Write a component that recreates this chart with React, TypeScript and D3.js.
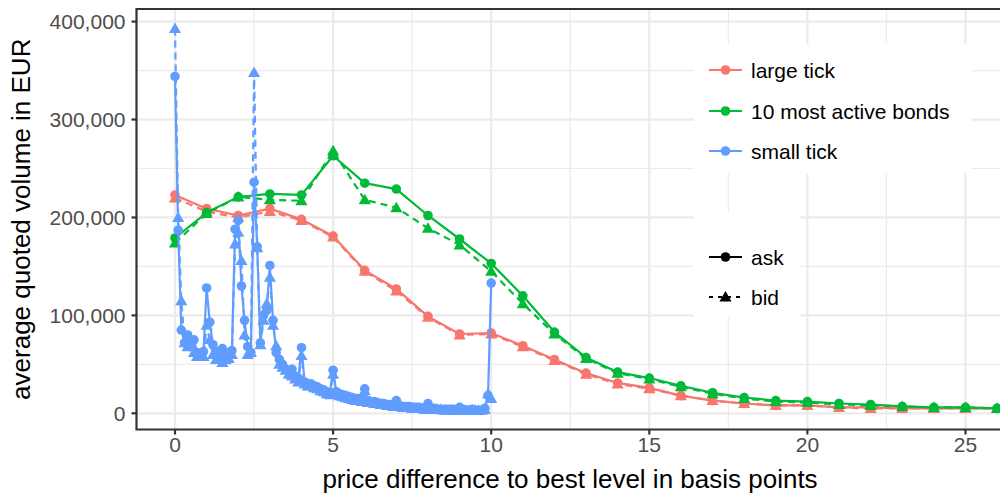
import * as d3 from "d3";

// values in thousand EUR
const largeTickX = d3.range(0, 27);
const largeAsk = [223, 209, 202, 209, 198, 181, 146, 127, 99, 81, 82, 69, 55, 41, 31, 26, 18, 13, 10, 8, 8, 6, 6, 5, 5, 5, 5];
const largeBid = [220, 206, 200, 206, 197, 180, 145, 125, 98, 80, 81, 68, 54, 40, 30, 25, 18, 13, 10, 8, 8, 6, 5, 5, 5, 5, 5];
const activeAsk = [179, 205, 221, 224, 223, 263, 235, 229, 202, 178, 153, 120, 83, 57, 42, 36, 28, 21, 16, 13, 12, 10, 9, 7, 6, 6, 5];
const activeBid = [174, 204, 221, 218, 217, 268, 218, 210, 189, 172, 145, 112, 81, 56, 41, 35, 27, 20, 15, 12, 11, 9, 8, 7, 6, 6, 5];

const smallTickX = d3.range(0, 101).map(i => i / 10);
const smallAsk = [
  344, 187, 85, 72, 80, 68, 75, 62, 60, 63,
  128, 93, 70, 63, 58, 66, 60, 62, 64, 188,
  197, 130, 95, 68, 62, 236, 170, 72, 100, 105,
  151, 95, 62, 55, 50, 45, 42, 45, 38, 36,
  67, 32, 30, 30, 28, 27, 25, 24, 22, 21,
  44, 22, 20, 19, 18, 17, 16, 15, 15, 14,
  25, 13, 12, 12, 11, 10, 10, 9, 9, 8,
  13, 8, 7, 7, 7, 6, 6, 6, 5, 5,
  10, 5, 5, 4, 4, 4, 4, 4, 4, 3,
  6, 4, 3, 3, 4, 3, 3, 3, 5, 18,
  133,
];
const smallBid = [
  393, 200, 115, 72, 68, 70, 62, 58, 60, 58,
  90, 75, 60, 55, 58, 52, 55, 56, 60, 173,
  185, 156, 80, 60, 62, 348, 169, 70, 95, 112,
  139, 90, 69, 50, 47, 44, 40, 38, 35, 32,
  59, 30, 28, 28, 26, 25, 23, 22, 20, 19,
  40, 20, 18, 17, 16, 15, 14, 13, 13, 12,
  23, 11, 11, 10, 10, 9, 9, 8, 8, 7,
  12, 7, 6, 6, 6, 5, 5, 5, 5, 4,
  9, 4, 4, 4, 4, 3, 3, 3, 3, 3,
  5, 3, 3, 3, 3, 3, 3, 3, 4, 20,
  15,
];

const groups = ["large tick", "10 most active bonds", "small tick"];
const colors = ["#F8766D", "#00BA38", "#619CFF"];
const sides = ["ask", "bid"];

const xTicks = [0, 5, 10, 15, 20, 25];
const xMinor = [2.5, 7.5, 12.5, 17.5, 22.5];
const yTicks = [0, 100, 200, 300, 400];
const yMinor = [50, 150, 250, 350];

const W = 1000, H = 495;
const font = "'Liberation Sans', Arial, sans-serif";
const panel = { left: 136.5, right: 1012, top: 9, bottom: 429.5 };

export default function App() {
  const x = d3.scaleLinear().domain([0, 25]).range([175, 965.5]);
  const y = d3.scaleLinear().domain([0, 400]).range([413.3, 21.6]);
  const fmt = d3.format(",");

  const series = [
    { g: 0, side: 0, xs: largeTickX, ys: largeAsk },
    { g: 0, side: 1, xs: largeTickX, ys: largeBid },
    { g: 1, side: 0, xs: largeTickX, ys: activeAsk },
    { g: 1, side: 1, xs: largeTickX, ys: activeBid },
    { g: 2, side: 0, xs: smallTickX, ys: smallAsk },
    { g: 2, side: 1, xs: smallTickX, ys: smallBid },
  ];
  const line = d3.line<[number, number]>().x(d => x(d[0])).y(d => y(d[1]));
  const tri = d3.symbol(d3.symbolTriangle, 64)();
  const dash = "7,5";

  const marker = (side: number, cx: number, cy: number, color: string, key: string) =>
    side === 0 ? (
      <circle key={key} cx={cx} cy={cy} r={4.8} fill={color} />
    ) : (
      <path key={key} d={tri!} transform={`translate(${cx},${cy + 1})`} fill={color} />
    );

  const legTop = [70, 111, 151];
  const legSide = [257, 297];

  return (
    <div style={{ position: "absolute", left: 0, top: 0 }}>
      <svg width={W} height={H} style={{ display: "block", fontFamily: font }}>
        <rect width={W} height={H} fill="#fff" />
        <defs>
          <clipPath id="panel">
            <rect x={panel.left} y={panel.top} width={panel.right - panel.left} height={panel.bottom - panel.top} />
          </clipPath>
        </defs>
        <g clipPath="url(#panel)">
          {xMinor.map(v => (
            <line key={"xm" + v} x1={x(v)} x2={x(v)} y1={panel.top} y2={panel.bottom} stroke="#EBEBEB" strokeWidth={1.2} />
          ))}
          {yMinor.map(v => (
            <line key={"ym" + v} x1={panel.left} x2={panel.right} y1={y(v)} y2={y(v)} stroke="#EBEBEB" strokeWidth={1.2} />
          ))}
          {xTicks.map(v => (
            <line key={"xg" + v} x1={x(v)} x2={x(v)} y1={panel.top} y2={panel.bottom} stroke="#EBEBEB" strokeWidth={2.2} />
          ))}
          {yTicks.map(v => (
            <line key={"yg" + v} x1={panel.left} x2={panel.right} y1={y(v)} y2={y(v)} stroke="#EBEBEB" strokeWidth={2.2} />
          ))}
          {series.map((s, i) => (
            <g key={"s" + i}>
              <path
                d={line(s.xs.map((v, j) => [v, s.ys[j]] as [number, number]))!}
                fill="none"
                stroke={colors[s.g]}
                strokeWidth={2.2}
                strokeDasharray={s.side === 1 ? dash : undefined}
                strokeLinejoin="round"
              />
              {s.xs.map((v, j) => marker(s.side, x(v), y(s.ys[j]), colors[s.g], `p${i}-${j}`))}
            </g>
          ))}
          {/* legends */}
          <rect x={694} y={44} width={278} height={129} fill="#fff" />
          <rect x={694} y={213} width={106} height={104} fill="#fff" />
        </g>
        {groups.map((g, i) => (
          <g key={g}>
            <line x1={709} x2={742} y1={legTop[i]} y2={legTop[i]} stroke={colors[i]} strokeWidth={2.2} />
            <circle cx={725.5} cy={legTop[i]} r={4.8} fill={colors[i]} />
            <text x={751} y={legTop[i]} dy="0.36em" fontSize={21} fill="#000">{g}</text>
          </g>
        ))}
        {sides.map((s, i) => (
          <g key={s}>
            <line x1={709} x2={742} y1={legSide[i]} y2={legSide[i]} stroke="#000" strokeWidth={2.2} strokeDasharray={i === 1 ? "4,5" : undefined} />
            {marker(i, 725.5, legSide[i], "#000", "lm" + i)}
            <text x={751} y={legSide[i]} dy="0.36em" fontSize={21} fill="#000">{s}</text>
          </g>
        ))}
        {/* panel border */}
        <path
          d={`M${panel.right},${panel.top}H${panel.left}V${panel.bottom}H${panel.right}`}
          fill="none"
          stroke="#333"
          strokeWidth={2.2}
        />
        {/* axes */}
        {xTicks.map(v => (
          <g key={"xt" + v}>
            <line x1={x(v)} x2={x(v)} y1={panel.bottom} y2={panel.bottom + 5} stroke="#333" strokeWidth={2.2} />
            <text x={x(v)} y={panel.bottom + 22} textAnchor="middle" fontSize={21} fill="#4D4D4D">{v}</text>
          </g>
        ))}
        {yTicks.map(v => (
          <g key={"yt" + v}>
            <line x1={panel.left - 5} x2={panel.left} y1={y(v)} y2={y(v)} stroke="#333" strokeWidth={2.2} />
            <text x={panel.left - 11} y={y(v)} dy="0.36em" textAnchor="end" fontSize={21} fill="#4D4D4D">{fmt(v * 1000)}</text>
          </g>
        ))}
        <text x={570} y={488} textAnchor="middle" fontSize={26} fill="#000">
          price difference to best level in basis points
        </text>
        <text transform={`translate(30,${(panel.top + panel.bottom) / 2}) rotate(-90)`} textAnchor="middle" fontSize={26} fill="#000">
          average quoted volume in EUR
        </text>
      </svg>
    </div>
  );
}
